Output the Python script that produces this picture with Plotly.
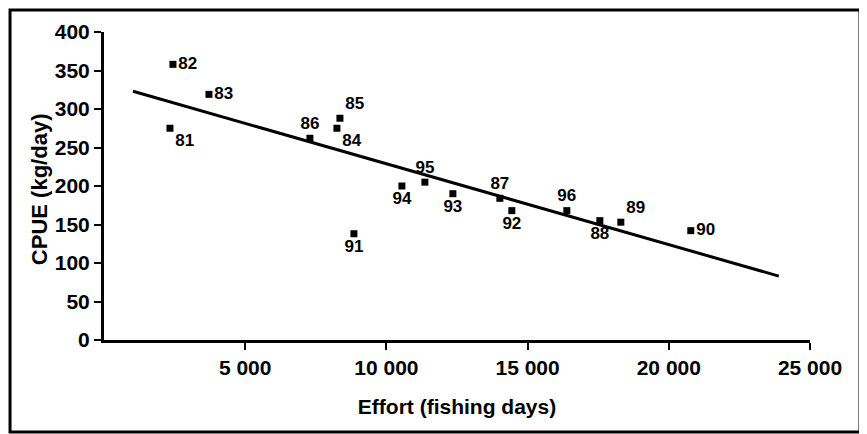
import plotly.graph_objects as go

# Data
years = ["81", "82", "83", "84", "85", "86", "87", "88", "89", "90",
         "91", "92", "93", "94", "95", "96"]
effort = [2336, 2442, 3717, 8248, 8354, 7292, 14018, 17558, 18301, 20779,
          8850, 14442, 12354, 10549, 11363, 16389]
cpue = [275, 358, 319, 275, 288, 262, 184, 155, 153, 142,
        138, 168, 190, 200, 205, 168]
label_pos = ["bottom right", "middle right", "middle right", "bottom right",
             "top right", "top center", "top center", "bottom center",
             "top right", "middle right", "bottom center", "bottom center",
             "bottom center", "bottom center", "top center", "top center"]

trend_x = [1027, 23894]
trend_y = [323, 83]

x_tickvals = [5000, 10000, 15000, 20000, 25000]
x_ticktext = ["5 000", "10 000", "15 000", "20 000", "25 000"]
y_tickvals = [0, 50, 100, 150, 200, 250, 300, 350, 400]
y_ticktext = ["0", "50", "100", "150", "200", "250", "300", "350", "400"]

FONT = "Liberation Sans, Arial, Helvetica, sans-serif"

fig = go.Figure()
fig.add_trace(go.Scatter(
    x=trend_x, y=trend_y, mode="lines",
    line=dict(color="black", width=3), hoverinfo="skip", showlegend=False))
fig.add_trace(go.Scatter(
    x=effort, y=cpue, mode="markers+text", text=years,
    textposition=label_pos,
    textfont=dict(family=FONT, size=17, color="black", weight="bold"),
    marker=dict(symbol="square", size=7, color="black"),
    showlegend=False, cliponaxis=False))

fig.update_layout(
    width=859, height=426,
    margin=dict(l=96, r=57, t=24, b=94),
    paper_bgcolor="white", plot_bgcolor="white",
    font=dict(family=FONT, color="black", size=20, weight="bold"),
    xaxis=dict(
        range=[0, 25000], tickvals=x_tickvals, ticktext=x_ticktext,
        showgrid=False, zeroline=False, showline=True, linecolor="black",
        linewidth=3, ticks="outside", ticklen=7, tickwidth=2, tickcolor="black",
        tickfont=dict(family=FONT, size=21, color="black", weight="bold"),
        title=dict(text="Effort (fishing days)", standoff=22,
                   font=dict(family=FONT, size=21, color="black", weight="bold")),
    ),
    yaxis=dict(
        range=[0, 400], tickvals=y_tickvals, ticktext=y_ticktext,
        showgrid=False, zeroline=False, showline=True, linecolor="black",
        linewidth=3, ticks="outside", ticklen=7, tickwidth=2, tickcolor="black",
        tickfont=dict(family=FONT, size=21, color="black", weight="bold"),
    ),
    annotations=[dict(text="CPUE (kg/day)", textangle=-90, showarrow=False,
                      xref="paper", yref="paper", x=-0.092, y=0.49,
                      xanchor="center", yanchor="middle",
                      font=dict(family=FONT, size=22, color="black", weight="bold"))],
    shapes=[dict(type="rect", xref="paper", yref="paper",
                 x0=-0.1331, x1=1.0708, y0=-0.2987, y1=1.0714,
                 line=dict(color="black", width=3), layer="below")],
)

fig.write_html("out.html")
